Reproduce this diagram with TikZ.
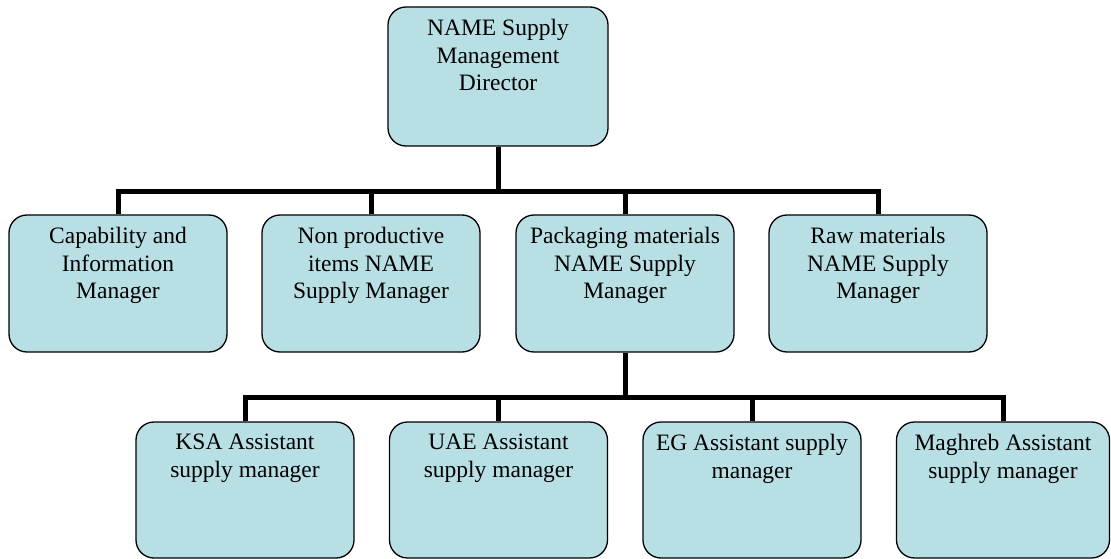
\documentclass[tikz,border=0pt]{standalone}
\usepackage{fontspec}
\setmainfont{Liberation Serif}
\definecolor{orgfill}{RGB}{184,223,228}
% box text: fixed-height parbox, lines set from the top
\newcommand{\orgtext}[2]{\parbox[c][#1][t]{210pt}{\centering\fontsize{23.5pt}{27.7pt}\selectfont\vspace*{12pt}#2}}
\begin{document}
\begin{tikzpicture}[x=1pt,y=-1pt,
  orgbox/.style={draw=black, fill=orgfill, line width=1.3pt, rounded corners=18pt,
                 inner sep=0pt, minimum width=218pt},
  link/.style={line width=5pt}]
\useasboundingbox (0,0) rectangle (1111,559);

% director
\node[orgbox, minimum width=220pt] (dir) at (498,76.5) {\orgtext{139pt}{NAME Supply\\Management\\Director}};

% managers
\node[orgbox] (cap)     at (118,283.5) {\orgtext{137pt}{Capability and\\Information\\Manager}};
\node[orgbox] (nonprod) at (371,283.5) {\orgtext{137pt}{Non productive\\items NAME\\Supply Manager}};
\node[orgbox] (pack)    at (625,283.5) {\orgtext{137pt}{Packaging materials\\NAME Supply\\Manager}};
\node[orgbox] (raw)     at (878,283.5) {\orgtext{137pt}{Raw materials\\NAME Supply\\Manager}};

% assistants
\node[orgbox] (ksa) at (245,490)   {\orgtext{136pt}{KSA Assistant\\supply manager}};
\node[orgbox] (uae) at (498.5,490) {\orgtext{136pt}{UAE Assistant\\supply manager}};
\node[orgbox] (eg)  at (752,490)   {\orgtext{136pt}{EG Assistant supply\\manager}};
\node[orgbox, minimum width=213pt] (mag) at (1003,490) {\orgtext{136pt}{Maghreb Assistant\\supply manager}};

% reporting lines
\coordinate (busA) at (498,191);
\draw[link] (dir.south) -- (busA);
\foreach \c in {cap,nonprod,pack,raw} \draw[link] (\c.north) |- (busA);

\coordinate (busB) at (625,397);
\draw[link] (pack.south) -- (busB);
\foreach \c in {ksa,uae,eg,mag} \draw[link] (\c.north) |- (busB);
\end{tikzpicture}
\end{document}
